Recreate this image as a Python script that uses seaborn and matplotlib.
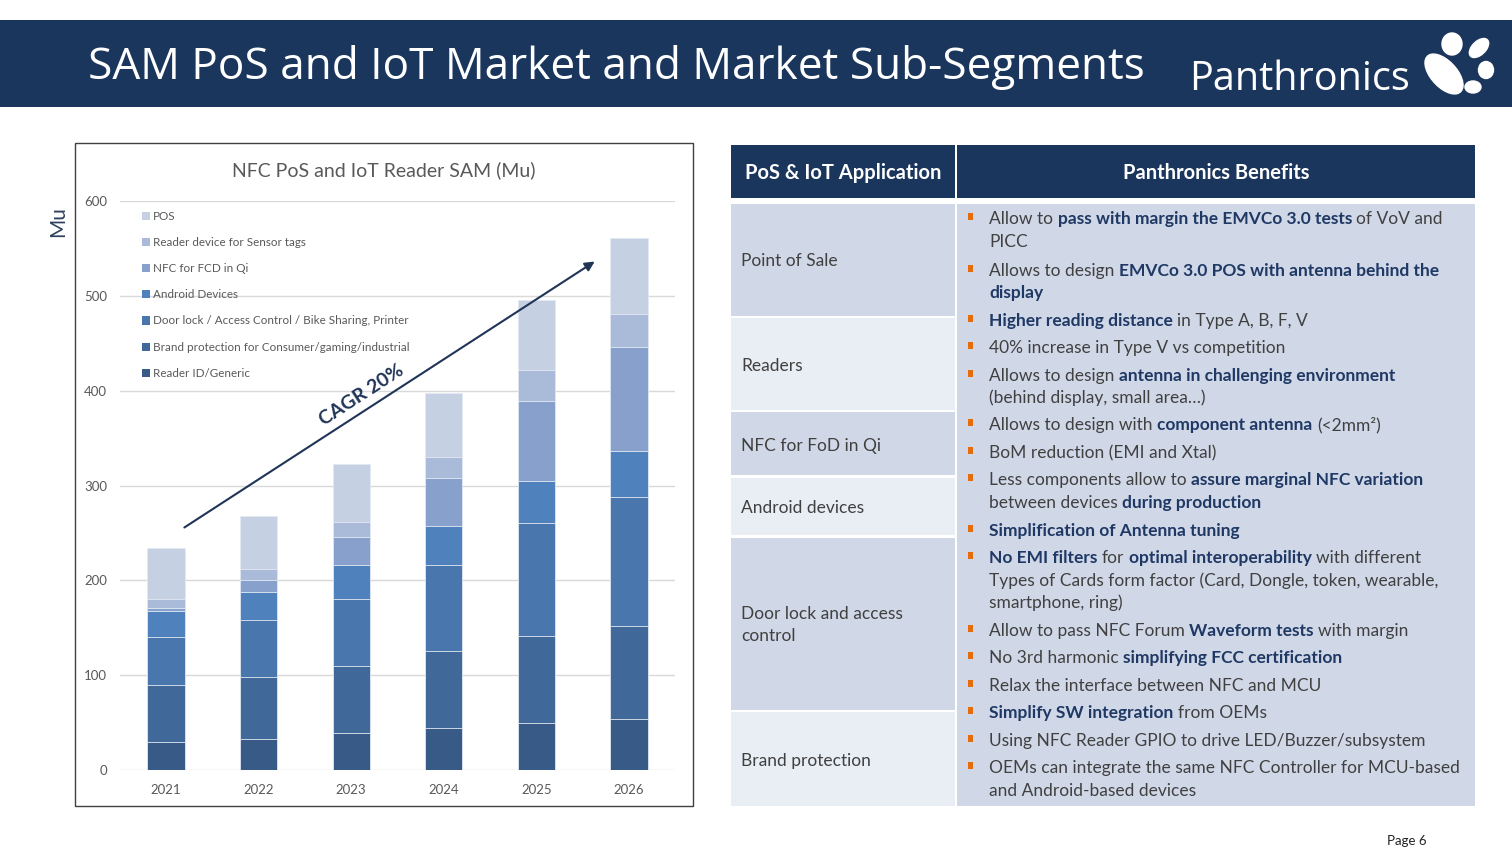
import matplotlib
matplotlib.use('Agg')
import matplotlib.pyplot as plt
import seaborn as sns
import numpy as np
from matplotlib.patches import Rectangle, Patch, Ellipse

# chart data (Mu), bottom segment first
years = ['2021', '2022', '2023', '2024', '2025', '2026']
reader_id = [29, 33, 39, 44, 50, 54]
brand_protection = [61, 65, 71, 82, 91, 98]
door_lock = [50, 60, 70, 90, 119, 136]
android = [28, 30, 36, 41, 45, 48]
nfc_qi = [3, 12, 30, 51, 84, 110]
sensor_tags = [9, 12, 16, 22, 33, 35]
pos = [54, 56, 61, 68, 74, 80]

series_names = ['Reader ID/Generic', 'Brand protection for Consumer/gaming/industrial',
                'Door lock / Access Control / Bike Sharing, Printer', 'Android Devices',
                'NFC for FCD in Qi', 'Reader device for Sensor tags', 'POS']
series_colors = ['#375a86', '#406898', '#4a76ae', '#4f81bd', '#87a1cc', '#aabbd9', '#c6d0e3']

# table text
app_rows = ['Point of Sale', 'Readers', 'NFC for FoD in Qi', 'Android devices',
            'Door lock and access\ncontrol', 'Brand protection']
benefit_lines = [
    (True, [('Allow to ', 0), ('pass with margin the EMVCo 3.0 tests', 1), (' of VoV and', 0)]),
    (False, [('PICC', 0)]),
    (True, [('Allows to design ', 0), ('EMVCo 3.0 POS with antenna behind the', 1)]),
    (False, [('display', 1)]),
    (True, [('Higher reading distance', 1), (' in Type A, B, F, V', 0)]),
    (True, [('40% increase in Type V vs competition', 0)]),
    (True, [('Allows to design ', 0), ('antenna in challenging environment', 1)]),
    (False, [('(behind display, small area…)', 0)]),
    (True, [('Allows to design with ', 0), ('component antenna', 1), (' (<2mm²)', 0)]),
    (True, [('BoM reduction (EMI and Xtal)', 0)]),
    (True, [('Less components allow to ', 0), ('assure marginal NFC variation', 1)]),
    (False, [('between devices ', 0), ('during production', 1)]),
    (True, [('Simplification of Antenna tuning', 1)]),
    (True, [('No EMI filters', 1), (' for ', 0), ('optimal interoperability', 1), (' with different', 0)]),
    (False, [('Types of Cards form factor (Card, Dongle, token, wearable,', 0)]),
    (False, [('smartphone, ring)', 0)]),
    (True, [('Allow to pass NFC Forum ', 0), ('Waveform tests', 1), (' with margin', 0)]),
    (True, [('No 3rd harmonic ', 0), ('simplifying FCC certification', 1)]),
    (True, [('Relax the interface between NFC and MCU', 0)]),
    (True, [('Simplify SW integration', 1), (' from OEMs', 0)]),
    (True, [('Using NFC Reader GPIO to drive LED/Buzzer/subsystem', 0)]),
    (True, [('OEMs can integrate the same NFC Controller for MCU-based', 0)]),
    (False, [('and Android-based devices', 0)]),
]

W, H = 1512, 851
NAVY = '#1b365d'
FONT = 'Lato'

sns.set_theme(style='white')
plt.rcParams['font.family'] = [FONT, 'DejaVu Sans']

fig = plt.figure(figsize=(W / 100, H / 100), dpi=100)
renderer = fig.canvas.get_renderer()


def fx(x):
    return x / W


def fy(y):
    return 1 - y / H


def box(x0, y0, x1, y1, color, **kw):
    fig.patches.append(Rectangle((fx(x0), fy(y1)), (x1 - x0) / W, (y1 - y0) / H,
                                 transform=fig.transFigure, facecolor=color, **kw))


# header band
box(0, 20, W, 107, NAVY, edgecolor='none')
fig.text(fx(88), fy(67), 'SAM PoS and IoT Market and Market Sub-Segments', color='white',
         fontsize=31.8, family='Open Sans', va='center', ha='left')
fig.text(fx(1189), fy(80), 'Panthronics', color='white', fontsize=28.5, family='Open Sans',
         va='center', ha='left')
# paw logo
for (cx, cy, w, h, ang) in [(1444, 74, 30, 42, 20), (1452, 44, 20, 22, 0), (1479, 48, 16, 20, -20),
                            (1486, 70, 15, 17, 0), (1473, 87, 16, 12, 0)]:
    fig.patches.append(Ellipse((fx(cx), fy(cy)), w / W, h / H, angle=ang,
                               transform=fig.transFigure, color='white'))

# chart frame
box(75, 143, 693, 806, 'none', edgecolor='#404040', linewidth=1)
fig.text(fx(384), fy(170), 'NFC PoS and IoT Reader SAM (Mu)', color='#595959', fontsize=14,
         ha='center', va='center')
fig.text(fx(58), fy(222), 'Mu', color='#2f4060', fontsize=15, rotation=90, ha='center', va='center')

ax = fig.add_axes([fx(119.7), fy(770), 555.6 / W, 569 / H])
layers = [reader_id, brand_protection, door_lock, android, nfc_qi, sensor_tags, pos]
cum = np.cumsum(np.array(layers), axis=0)
for i in range(len(layers) - 1, -1, -1):
    sns.barplot(x=years, y=cum[i], color=series_colors[i], saturation=1, width=0.4,
                edgecolor='#e4eaf3', linewidth=0.6, ax=ax)
ax.set_ylim(0, 600)
ax.set_xlim(-0.5, 5.5)
ax.set_yticks(range(0, 601, 100))
ax.yaxis.grid(True, color='#d9d9d9', linewidth=1)
ax.set_axisbelow(True)
for s in ax.spines.values():
    s.set_visible(False)
ax.tick_params(length=0, labelsize=9.5, labelcolor='#595959')
ax.tick_params(axis='y', pad=9)
ax.tick_params(axis='x', pad=10)
ax.set_xlabel('')
ax.set_ylabel('')

handles = [Patch(facecolor=series_colors[i], edgecolor='none') for i in range(6, -1, -1)]
labels = [series_names[i] for i in range(6, -1, -1)]
ax.legend(handles, labels, loc='upper left', bbox_to_anchor=(fx(136), fy(205)),
          bbox_transform=fig.transFigure, frameon=False, fontsize=8.4, labelcolor='#595959',
          handlelength=0.7, handleheight=0.7, handletextpad=0.25, labelspacing=1.3, borderpad=0)

# CAGR arrow
ax.annotate('', xy=(fx(597), fy(260)), xytext=(fx(182), fy(529)), xycoords='figure fraction',
            textcoords='figure fraction',
            arrowprops=dict(arrowstyle='-|>', color='#1f3456', lw=1.5, mutation_scale=14))
fig.text(fx(362), fy(395), 'CAGR 20%', color='#1f3456', fontsize=14, fontweight='bold',
         rotation=33, ha='center', va='center', rotation_mode='anchor')

# table
box(731, 145, 955, 198, NAVY, edgecolor='none')
box(957, 145, 1475, 198, NAVY, edgecolor='none')
fig.text(fx(843), fy(173), 'PoS & IoT Application', color='white', fontsize=14.5, fontweight='bold',
         ha='center', va='center')
fig.text(fx(1216), fy(173), 'Panthronics Benefits', color='white', fontsize=14.5, fontweight='bold',
         ha='center', va='center')

row_bounds = [(204, 316), (318, 410), (412, 475), (478, 535), (538, 710), (712, 806)]
row_text_y = [261, 366, 446, 508, 625, 761]
for i, (y0, y1) in enumerate(row_bounds):
    box(731, y0, 955, y1, '#d0d7e6' if i % 2 == 0 else '#e9edf4', edgecolor='none')
    fig.text(fx(741), fy(row_text_y[i]), app_rows[i], color='#404040', fontsize=12.5,
             ha='left', va='center', linespacing=1.45)
box(957, 204, 1475, 806, '#d0d8e8', edgecolor='none')

BODY = 12.5
line_y = [219, 242, 271, 293, 321, 348, 376, 398, 425, 453, 480, 503, 531, 558, 581, 603,
          631, 658, 686, 713, 741, 768, 791]


def text_width(s, bold):
    t = fig.text(0, 0, s, fontsize=BODY, fontweight='bold' if bold else 'normal')
    w = t.get_window_extent(renderer).width
    t.remove()
    return w


space_w = {b: text_width('a a', b) - text_width('aa', b) for b in (0, 1)}

for (bullet, parts), y in zip(benefit_lines, line_y):
    if bullet:
        box(968, y - 6, 973, y + 1, '#e46c0a', edgecolor='none')
    cx = 989
    for s, b in parts:
        lead = len(s) - len(s.lstrip(' '))
        trail = len(s) - len(s.rstrip(' '))
        cx += lead * space_w[b]
        core = s.strip(' ')
        t = fig.text(fx(cx), fy(y), core, fontsize=BODY, fontweight='bold' if b else 'normal',
                     color='#1f3864' if b else '#404040', ha='left', va='center')
        cx = t.get_window_extent(renderer).x1 + trail * space_w[b]

fig.text(fx(1407), fy(841), 'Page 6', color='#222222', fontsize=9.5, ha='center', va='center')

fig.savefig('out.png', dpi=100)
